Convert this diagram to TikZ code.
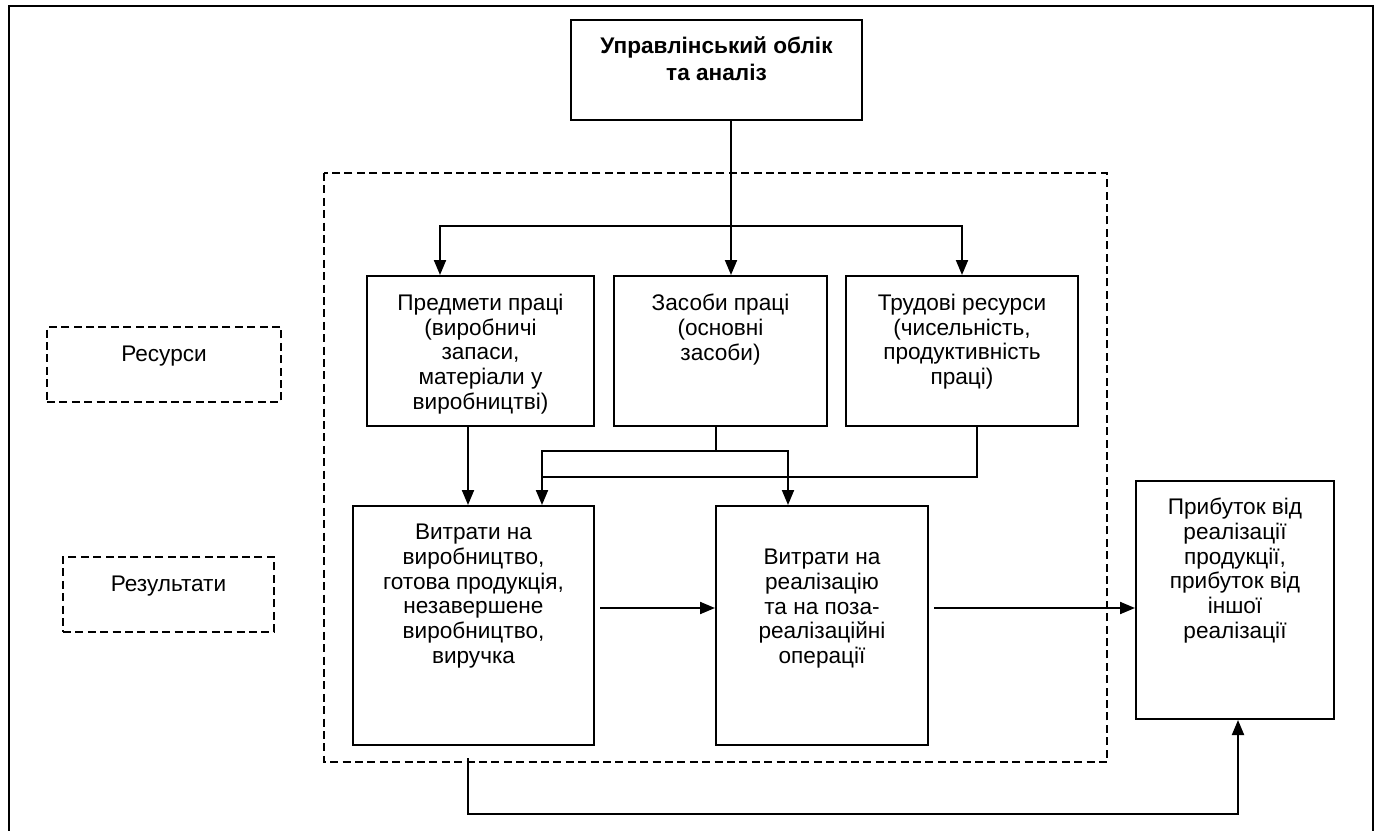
\documentclass[tikz,border=0pt]{standalone}
\usepackage{fontspec}
\setmainfont{Liberation Sans}
\usetikzlibrary{arrows.meta}

% text block: width, height, top gap, lines
\newcommand{\bloktxt}[4]{\parbox[c][#2pt][t]{#1pt}{\vspace*{#3pt}\centering #4}}

\begin{document}
\begin{tikzpicture}[x=0.5pt,y=-0.5pt,
    every node/.style={font=\fontsize{11.3}{12.4}\selectfont},
    blok/.style={draw,line width=1pt,inner sep=0pt},
    ramka/.style={draw,line width=1pt,dash pattern=on 4pt off 2.2pt,inner sep=0pt},
    strilka/.style={-{Triangle[length=7.5pt,width=6pt]},line width=1pt},
    liniya/.style={line width=1pt}
  ]
  \useasboundingbox (0,0) rectangle (1379,830);
  \draw[line width=1.2pt] (9,6) rectangle (1373,845);
  \draw[ramka] (324,173) rectangle (1107,762);

  \node[blok,font=\fontsize{11.3}{13.3}\selectfont\bfseries] (upr) at (716.5,70)
    {\bloktxt{145.5}{50}{8.5}{Управлінський облік\\та аналіз}};

  \node[ramka] (res) at (164,364.5) {\bloktxt{117}{37.5}{9.5}{Ресурси}};
  \node[ramka] (rez) at (168.5,594.5) {\bloktxt{105.5}{37.5}{9.5}{Результати}};

  \node[blok] (predm) at (480.5,351)
    {\bloktxt{113.5}{75}{9}{Предмети праці\\(виробничі\\запаси,\\матеріали у\\виробництві)}};
  \node[blok] (zasoby) at (720.5,351)
    {\bloktxt{106.5}{75}{9}{Засоби праці\\(основні\\засоби)}};
  \node[blok] (trud) at (962,351)
    {\bloktxt{116}{75}{9}{Трудові ресурси\\(чисельність,\\продуктивність\\праці)}};

  \node[blok] (vytr1) at (473.5,625.5)
    {\bloktxt{120.5}{119.5}{9}{Витрати на\\виробництво,\\готова продукція,\\незавершене\\виробництво,\\виручка}};
  \node[blok] (vytr2) at (822,625.5)
    {\bloktxt{106}{119.5}{21.5}{Витрати на\\реалізацію\\та на поза-\\реалізаційні\\операції}};
  \node[blok] (prib) at (1235,600)
    {\bloktxt{99}{119}{8.5}{Прибуток від\\реалізації\\продукції,\\прибуток від\\іншої\\реалізації}};

  % from the top box to the resources
  \draw[liniya] ([xshift=7.25pt]upr.south) -- ++(0,105) coordinate (bus);
  \draw[strilka] (bus) -- ([xshift=5.25pt]zasoby.north);
  \draw[strilka] (bus) -| ([xshift=-20.25pt]predm.north);
  \draw[strilka] (bus) -| (trud.north);

  % resources to costs
  \draw[strilka] ([xshift=-6.25pt]predm.south) -- ([xshift=-6.25pt]predm.south |- vytr1.north);
  \draw[liniya] ([xshift=-2.25pt]zasoby.south) -- ++(0,24) coordinate (zv);
  \draw[strilka] (zv) -| ([xshift=34.25pt]vytr1.north);
  \draw[strilka] (zv) -| ([xshift=-17pt]vytr2.north);
  \draw[liniya] ([xshift=7.5pt]trud.south) -- ++(0,50) -- ++(-435,0);

  % costs to profit
  \draw[strilka] ([xshift=2.5pt,yshift=8.75pt]vytr1.east) -- ([yshift=8.75pt]vytr2.west);
  \draw[strilka] ([xshift=2.5pt,yshift=8.75pt]vytr2.east) -- ([yshift=-4pt]prib.west);
  \draw[strilka] ([xshift=-2.75pt,yshift=-6pt]vytr1.south) -- ++(0,56) -| ([xshift=1.5pt]prib.south);
\end{tikzpicture}
\end{document}
